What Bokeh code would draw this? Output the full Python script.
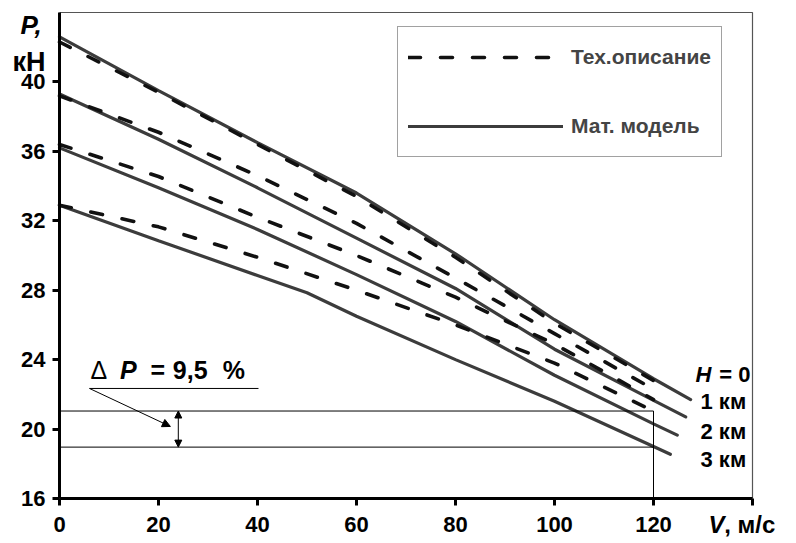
from bokeh.plotting import figure
from bokeh.models import Label, Arrow, NormalHead, FixedTicker, Legend, LegendItem, Range1d
from bokeh.embed import file_html
from bokeh.resources import INLINE

# ---- data ----
V_tech = [0, 20, 40, 60, 80, 100, 120]
P_tech_H0 = [42.3, 39.4, 36.4, 33.4, 29.9, 26.1, 22.8]
P_tech_H1 = [39.2, 37.1, 34.6, 31.85, 28.7, 25.5, 22.3]
P_tech_H2 = [36.4, 34.55, 32.2, 30.0, 27.6, 24.9, 21.7]
P_tech_H3 = [32.9, 31.65, 29.9, 28.0, 26.0, 23.8, 21.04]

V_mod_H0 = [0, 20, 40, 60, 80, 100, 120, 127.5]
P_mod_H0 = [42.6, 39.5, 36.5, 33.6, 30.1, 26.3, 22.9, 21.7]
V_mod_H1 = [0, 20, 40, 60, 80, 100, 120, 126.5]
P_mod_H1 = [39.3, 36.7, 33.9, 31.0, 28.1, 24.6, 21.65, 20.7]
V_mod_H2 = [0, 20, 40, 60, 80, 100, 120, 124.8]
P_mod_H2 = [36.2, 33.9, 31.5, 28.9, 26.2, 23.1, 20.3, 19.65]
V_mod_H3 = [0, 20, 40, 50, 60, 80, 100, 120, 123.4]
P_mod_H3 = [32.9, 30.85, 28.85, 27.85, 26.5, 24.0, 21.6, 19.0, 18.55]

x_ticks = [0, 20, 40, 60, 80, 100, 120, 140]
y_ticks = [16, 20, 24, 28, 32, 36, 40]
V_min, V_max = 0, 140
P_min, P_max = 16, 44

# annotation values
dP_V = 120
dP_upper = 21.04
dP_lower = 18.96
dP_text_value = "9,5"

FONT = "Liberation Sans"

# layout: plot area of the reference spans pixels x 59..752, y 12..498
W, H = 794, 541
px_left, px_right, px_top, px_bottom = 59, 752, 12, 498
sx = (px_right - px_left) / (V_max - V_min)
sy = (px_bottom - px_top) / (P_max - P_min)
xr = Range1d(V_min - px_left / sx, V_max + (W - px_right) / sx)
yr = Range1d(P_min - (H - px_bottom) / sy, P_max + px_top / sy)

p = figure(width=W, height=H, output_backend="svg", toolbar_location=None,
           x_range=xr, y_range=yr,
           min_border_left=0, min_border_right=0, min_border_top=0, min_border_bottom=0)
p.xgrid.visible = False
p.ygrid.visible = False
p.outline_line_color = None

for ax in (p.xaxis[0], p.yaxis[0]):
    ax.axis_line_width = 3
    ax.axis_line_color = "black"
    ax.major_tick_line_width = 3
    ax.major_tick_line_color = "black"
    ax.major_tick_in = 0
    ax.major_tick_out = 7
    ax.minor_tick_line_color = None
    ax.major_label_text_font = FONT
    ax.major_label_text_font_style = "bold"
    ax.major_label_text_font_size = "22px"
    ax.major_label_text_color = "black"

p.xaxis.fixed_location = P_min
p.xaxis.bounds = (V_min, V_max)
p.xaxis.ticker = FixedTicker(ticks=x_ticks)
p.xaxis.major_label_overrides = {140: ""}
p.xaxis.major_label_standoff = 11
p.yaxis.fixed_location = V_min
p.yaxis.bounds = (P_min, P_max)
p.yaxis.ticker = FixedTicker(ticks=y_ticks)
p.yaxis.major_label_standoff = 7

# thin top / right frame lines
p.line([V_min, V_max, V_max], [P_max, P_max, P_min], line_color="#555555", line_width=1.2)

solid_col = "#3c3c3c"
dash_col = "#111111"

tech_series = [P_tech_H0, P_tech_H1, P_tech_H2, P_tech_H3]
mod_series = [(V_mod_H0, P_mod_H0), (V_mod_H1, P_mod_H1), (V_mod_H2, P_mod_H2), (V_mod_H3, P_mod_H3)]

mod_r = []
for vv, pp in mod_series:
    r = p.line(vv, pp, line_color=solid_col, line_width=3.2, line_cap="round")
    mod_r.append(r)
tech_r = []
for pp in tech_series:
    r = p.line(V_tech, pp, line_color=dash_col, line_width=3.6, line_dash="12 20", line_cap="round")
    tech_r.append(r)

# ΔP annotation lines
p.line([V_min, dP_V], [dP_upper, dP_upper], line_color="black", line_width=1)
p.line([V_min, dP_V], [dP_lower, dP_lower], line_color="black", line_width=1)
p.line([dP_V, dP_V], [P_min, dP_upper], line_color="black", line_width=1)
p.line([6.06, 40.2], [22.34, 22.34], line_color="black", line_width=1)

p.add_layout(Arrow(start=NormalHead(size=7, fill_color="black", line_color="black"),
                   end=NormalHead(size=7, fill_color="black", line_color="black"),
                   x_start=24, y_start=dP_lower, x_end=24, y_end=dP_upper,
                   line_color="black", line_width=1))
p.add_layout(Arrow(end=NormalHead(size=8, fill_color="black", line_color="black"),
                   x_start=6.06, y_start=22.34, x_end=22.4, y_end=20.15,
                   line_color="black", line_width=1))

DY = 0.5  # baseline correction

def lab(x, y, t, size, style="bold", align="left"):
    p.add_layout(Label(x=x, y=y + DY, text=t, text_font=FONT, text_font_size=size,
                       text_font_style=style, text_color="black", text_align=align,
                       text_baseline="alphabetic"))

lab(6.26, 22.91, "Δ", "25px", "normal")
lab(12.2, 22.91, "P", "25px", "bold italic")
lab(18.4, 22.91, "=", "25px")
lab(22.9, 22.91, dP_text_value, "25px")
lab(33.0, 22.91, "%", "25px")

# right side labels
lab(128.5, 22.62, "H", "22px", "bold italic")
lab(133.3, 22.62, "= 0", "22px")
lab(129.5, 21.07, "1 км", "22px")
lab(129.5, 19.34, "2 км", "22px")
lab(129.5, 17.73, "3 км", "22px")

# axis titles
lab(-7.88, 42.79, "P,", "26px", "bold italic")
lab(-9.5, 40.66, "кН", "27px")
lab(131.1, 14.0, "V", "24px", "bold italic")
lab(134.3, 14.0, ", м/с", "24px")

legend = Legend(items=[LegendItem(label="Тех.описание", renderers=[tech_r[0]]),
                       LegendItem(label="Мат. модель", renderers=[mod_r[0]])],
                location=(397, H - 157), orientation="vertical",
                glyph_width=155, glyph_height=40, label_height=40, label_standoff=8,
                spacing=29, padding=10, margin=0,
                label_text_font=FONT, label_text_font_style="bold", label_text_font_size="21px",
                border_line_color="#444444", border_line_width=1.2,
                background_fill_color="white", background_fill_alpha=1.0)
p.add_layout(legend)

open("out.html", "w").write(file_html(p, INLINE))
